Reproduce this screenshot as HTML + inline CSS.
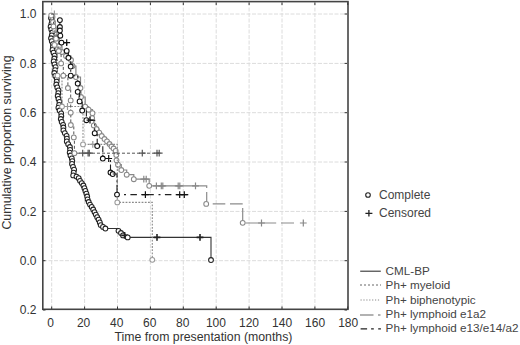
<!DOCTYPE html>
<html><head><meta charset="utf-8"><style>
html,body{margin:0;padding:0;background:#fff;}
svg{display:block;}
</style></head><body>
<svg width="520" height="345" viewBox="0 0 520 345">
<rect width="520" height="345" fill="#fff"/>
<g stroke="#dcdcdc" stroke-width="1" stroke-dasharray="4,1.5"><line x1="84.6" y1="2" x2="84.6" y2="309" />
<line x1="117.5" y1="2" x2="117.5" y2="309" />
<line x1="150.4" y1="2" x2="150.4" y2="309" />
<line x1="183.3" y1="2" x2="183.3" y2="309" />
<line x1="216.2" y1="2" x2="216.2" y2="309" />
<line x1="249.1" y1="2" x2="249.1" y2="309" />
<line x1="282.0" y1="2" x2="282.0" y2="309" />
<line x1="314.9" y1="2" x2="314.9" y2="309" />
<line x1="51.7" y1="2" x2="51.7" y2="309" />
<line x1="43" y1="14.0" x2="347" y2="14.0" />
<line x1="43" y1="63.4" x2="347" y2="63.4" />
<line x1="43" y1="112.7" x2="347" y2="112.7" />
<line x1="43" y1="162.0" x2="347" y2="162.0" />
<line x1="43" y1="211.4" x2="347" y2="211.4" />
<line x1="43" y1="260.7" x2="347" y2="260.7" /></g>
<path d="M51.2,14.0H51.0V18.0H52.0V20.9H51.4V23.8H50.6V26.7H51.3V29.6H52.3V32.5H51.8V35.4H51.0V38.3H51.8V41.2H53.0V44.1H52.9V47.0H52.5V49.9H53.5V52.7H54.6V55.6H54.3V58.5H53.7V61.4H54.5V64.3H55.5V67.2H55.1V70.1H54.3V73.0H55.3V75.9H56.8V78.8H56.7V81.6H56.3V84.5H57.3V87.4H58.5V90.3H58.3V93.2H57.7V96.0H58.5V98.9H59.5V101.8H59.1V104.8H58.4V107.7H59.6V110.5H61.2V113.3H61.3V116.1H60.8V119.0H61.7V121.9H63.1V124.8H63.4V127.5H63.4V130.3H64.8V133.1H66.6V135.9H66.9V138.6H66.8V141.4H68.2V144.2H69.9V147.0H70.1V149.8H69.7V152.6H70.5V155.5H71.8V158.4H72.3V161.1H72.0V163.9H73.0V166.8H74.1V169.7H73.7V172.6H73.2V175.4H76.5V176.6H78.7V178.2H80.0V180.8H81.8V183.1H83.4V185.5H84.4V188.2H85.4V190.9H86.4V193.7H87.2V196.5H87.6V199.3H88.7V202.0H90.0V204.6H91.7V206.9H93.2V209.5H94.5V212.1H95.8V214.6H97.2V217.2H98.6V219.7H99.8V222.4H100.7V225.1H103.0V226.9H105.4V228.5H118.5V230.8H121.0V233.0H123.0V235.4H124.6H127.7V237.4H157.0H200.0H211.0V260.0" fill="none" stroke="#333" stroke-width="1.1"/>
<circle cx="51.0" cy="18.0" r="2.4" fill="#fff" stroke="#222" stroke-width="1.05"/>
<circle cx="52.0" cy="20.9" r="2.4" fill="#fff" stroke="#222" stroke-width="1.05"/>
<circle cx="51.4" cy="23.8" r="2.4" fill="#fff" stroke="#222" stroke-width="1.05"/>
<circle cx="50.6" cy="26.7" r="2.4" fill="#fff" stroke="#222" stroke-width="1.05"/>
<circle cx="51.3" cy="29.6" r="2.4" fill="#fff" stroke="#222" stroke-width="1.05"/>
<circle cx="52.3" cy="32.5" r="2.4" fill="#fff" stroke="#222" stroke-width="1.05"/>
<circle cx="51.8" cy="35.4" r="2.4" fill="#fff" stroke="#222" stroke-width="1.05"/>
<circle cx="51.0" cy="38.3" r="2.4" fill="#fff" stroke="#222" stroke-width="1.05"/>
<circle cx="51.8" cy="41.2" r="2.4" fill="#fff" stroke="#222" stroke-width="1.05"/>
<circle cx="53.0" cy="44.1" r="2.4" fill="#fff" stroke="#222" stroke-width="1.05"/>
<circle cx="52.9" cy="47.0" r="2.4" fill="#fff" stroke="#222" stroke-width="1.05"/>
<circle cx="52.5" cy="49.9" r="2.4" fill="#fff" stroke="#222" stroke-width="1.05"/>
<circle cx="53.5" cy="52.7" r="2.4" fill="#fff" stroke="#222" stroke-width="1.05"/>
<circle cx="54.6" cy="55.6" r="2.4" fill="#fff" stroke="#222" stroke-width="1.05"/>
<circle cx="54.3" cy="58.5" r="2.4" fill="#fff" stroke="#222" stroke-width="1.05"/>
<circle cx="53.7" cy="61.4" r="2.4" fill="#fff" stroke="#222" stroke-width="1.05"/>
<circle cx="54.5" cy="64.3" r="2.4" fill="#fff" stroke="#222" stroke-width="1.05"/>
<circle cx="55.5" cy="67.2" r="2.4" fill="#fff" stroke="#222" stroke-width="1.05"/>
<circle cx="55.1" cy="70.1" r="2.4" fill="#fff" stroke="#222" stroke-width="1.05"/>
<circle cx="54.3" cy="73.0" r="2.4" fill="#fff" stroke="#222" stroke-width="1.05"/>
<circle cx="55.3" cy="75.9" r="2.4" fill="#fff" stroke="#222" stroke-width="1.05"/>
<circle cx="56.8" cy="78.8" r="2.4" fill="#fff" stroke="#222" stroke-width="1.05"/>
<circle cx="56.7" cy="81.6" r="2.4" fill="#fff" stroke="#222" stroke-width="1.05"/>
<circle cx="56.3" cy="84.5" r="2.4" fill="#fff" stroke="#222" stroke-width="1.05"/>
<circle cx="57.3" cy="87.4" r="2.4" fill="#fff" stroke="#222" stroke-width="1.05"/>
<circle cx="58.5" cy="90.3" r="2.4" fill="#fff" stroke="#222" stroke-width="1.05"/>
<circle cx="58.3" cy="93.2" r="2.4" fill="#fff" stroke="#222" stroke-width="1.05"/>
<circle cx="57.7" cy="96.0" r="2.4" fill="#fff" stroke="#222" stroke-width="1.05"/>
<circle cx="58.5" cy="98.9" r="2.4" fill="#fff" stroke="#222" stroke-width="1.05"/>
<circle cx="59.5" cy="101.8" r="2.4" fill="#fff" stroke="#222" stroke-width="1.05"/>
<circle cx="59.1" cy="104.8" r="2.4" fill="#fff" stroke="#222" stroke-width="1.05"/>
<circle cx="58.4" cy="107.7" r="2.4" fill="#fff" stroke="#222" stroke-width="1.05"/>
<circle cx="59.6" cy="110.5" r="2.4" fill="#fff" stroke="#222" stroke-width="1.05"/>
<circle cx="61.2" cy="113.3" r="2.4" fill="#fff" stroke="#222" stroke-width="1.05"/>
<circle cx="61.3" cy="116.1" r="2.4" fill="#fff" stroke="#222" stroke-width="1.05"/>
<circle cx="60.8" cy="119.0" r="2.4" fill="#fff" stroke="#222" stroke-width="1.05"/>
<circle cx="61.7" cy="121.9" r="2.4" fill="#fff" stroke="#222" stroke-width="1.05"/>
<circle cx="63.1" cy="124.8" r="2.4" fill="#fff" stroke="#222" stroke-width="1.05"/>
<circle cx="63.4" cy="127.5" r="2.4" fill="#fff" stroke="#222" stroke-width="1.05"/>
<circle cx="63.4" cy="130.3" r="2.4" fill="#fff" stroke="#222" stroke-width="1.05"/>
<circle cx="64.8" cy="133.1" r="2.4" fill="#fff" stroke="#222" stroke-width="1.05"/>
<circle cx="66.6" cy="135.9" r="2.4" fill="#fff" stroke="#222" stroke-width="1.05"/>
<circle cx="66.9" cy="138.6" r="2.4" fill="#fff" stroke="#222" stroke-width="1.05"/>
<circle cx="66.8" cy="141.4" r="2.4" fill="#fff" stroke="#222" stroke-width="1.05"/>
<circle cx="68.2" cy="144.2" r="2.4" fill="#fff" stroke="#222" stroke-width="1.05"/>
<circle cx="69.9" cy="147.0" r="2.4" fill="#fff" stroke="#222" stroke-width="1.05"/>
<circle cx="70.1" cy="149.8" r="2.4" fill="#fff" stroke="#222" stroke-width="1.05"/>
<circle cx="69.7" cy="152.6" r="2.4" fill="#fff" stroke="#222" stroke-width="1.05"/>
<circle cx="70.5" cy="155.5" r="2.4" fill="#fff" stroke="#222" stroke-width="1.05"/>
<circle cx="71.8" cy="158.4" r="2.4" fill="#fff" stroke="#222" stroke-width="1.05"/>
<circle cx="72.3" cy="161.1" r="2.4" fill="#fff" stroke="#222" stroke-width="1.05"/>
<circle cx="72.0" cy="163.9" r="2.4" fill="#fff" stroke="#222" stroke-width="1.05"/>
<circle cx="73.0" cy="166.8" r="2.4" fill="#fff" stroke="#222" stroke-width="1.05"/>
<circle cx="74.1" cy="169.7" r="2.4" fill="#fff" stroke="#222" stroke-width="1.05"/>
<circle cx="73.7" cy="172.6" r="2.4" fill="#fff" stroke="#222" stroke-width="1.05"/>
<circle cx="73.2" cy="175.4" r="2.4" fill="#fff" stroke="#222" stroke-width="1.05"/>
<circle cx="76.5" cy="176.6" r="2.4" fill="#fff" stroke="#222" stroke-width="1.05"/>
<circle cx="78.7" cy="178.2" r="2.4" fill="#fff" stroke="#222" stroke-width="1.05"/>
<circle cx="80.0" cy="180.8" r="2.4" fill="#fff" stroke="#222" stroke-width="1.05"/>
<circle cx="81.8" cy="183.1" r="2.4" fill="#fff" stroke="#222" stroke-width="1.05"/>
<circle cx="83.4" cy="185.5" r="2.4" fill="#fff" stroke="#222" stroke-width="1.05"/>
<circle cx="84.4" cy="188.2" r="2.4" fill="#fff" stroke="#222" stroke-width="1.05"/>
<circle cx="85.4" cy="190.9" r="2.4" fill="#fff" stroke="#222" stroke-width="1.05"/>
<circle cx="86.4" cy="193.7" r="2.4" fill="#fff" stroke="#222" stroke-width="1.05"/>
<circle cx="87.2" cy="196.5" r="2.4" fill="#fff" stroke="#222" stroke-width="1.05"/>
<circle cx="87.6" cy="199.3" r="2.4" fill="#fff" stroke="#222" stroke-width="1.05"/>
<circle cx="88.7" cy="202.0" r="2.4" fill="#fff" stroke="#222" stroke-width="1.05"/>
<circle cx="90.0" cy="204.6" r="2.4" fill="#fff" stroke="#222" stroke-width="1.05"/>
<circle cx="91.7" cy="206.9" r="2.4" fill="#fff" stroke="#222" stroke-width="1.05"/>
<circle cx="93.2" cy="209.5" r="2.4" fill="#fff" stroke="#222" stroke-width="1.05"/>
<circle cx="94.5" cy="212.1" r="2.4" fill="#fff" stroke="#222" stroke-width="1.05"/>
<circle cx="95.8" cy="214.6" r="2.4" fill="#fff" stroke="#222" stroke-width="1.05"/>
<circle cx="97.2" cy="217.2" r="2.4" fill="#fff" stroke="#222" stroke-width="1.05"/>
<circle cx="98.6" cy="219.7" r="2.4" fill="#fff" stroke="#222" stroke-width="1.05"/>
<circle cx="99.8" cy="222.4" r="2.4" fill="#fff" stroke="#222" stroke-width="1.05"/>
<circle cx="100.7" cy="225.1" r="2.4" fill="#fff" stroke="#222" stroke-width="1.05"/>
<circle cx="103.0" cy="226.9" r="2.4" fill="#fff" stroke="#222" stroke-width="1.05"/>
<circle cx="105.4" cy="228.5" r="2.4" fill="#fff" stroke="#222" stroke-width="1.05"/>
<circle cx="118.5" cy="230.8" r="2.4" fill="#fff" stroke="#222" stroke-width="1.05"/>
<circle cx="121.0" cy="233.0" r="2.4" fill="#fff" stroke="#222" stroke-width="1.05"/>
<circle cx="123.0" cy="235.4" r="2.4" fill="#fff" stroke="#222" stroke-width="1.05"/>
<path d="M121.2,235.4H128.0M124.6,232.0V238.8" stroke="#222" stroke-width="1.6" fill="none"/>
<circle cx="127.7" cy="237.4" r="2.4" fill="#fff" stroke="#222" stroke-width="1.05"/>
<path d="M153.6,237.4H160.4M157.0,234.0V240.8" stroke="#222" stroke-width="1.6" fill="none"/>
<path d="M196.6,237.4H203.4M200.0,234.0V240.8" stroke="#222" stroke-width="1.6" fill="none"/>
<circle cx="211.0" cy="260.0" r="2.4" fill="#fff" stroke="#222" stroke-width="1.05"/>
<path d="M51.2,14.0H52.5V17.0H53.0V22.0H55.0V30.0H57.0V38.0H59.0V46.0H62.0V52.0H66.0V56.0H71.0V60.0H72.5V66.0H75.9V77.0H80.5V88.0H81.0V97.0H85.2V106.6H88.6V109.7H92.5V113.2H92.1V118.0H93.8V125.4H96.5V129.0H99.2V132.6H101.7V136.0H104.5V139.0H107.0V141.3H109.5V144.0H111.5V146.5H113.6V148.5H115.7V150.9H116.3V155.0H116.5V160.3H118.0V164.7H121.3V170.0H126.7V174.7H133.8V179.2H143.8H146.2H149.2V185.8H156.4H161.3H162.8H178.2H179.8H195.5" fill="none" stroke="#888" stroke-width="1.2"/>
<circle cx="52.5" cy="17.0" r="2.4" fill="#fff" stroke="#888" stroke-width="1.05"/>
<circle cx="53.0" cy="22.0" r="2.4" fill="#fff" stroke="#888" stroke-width="1.05"/>
<circle cx="55.0" cy="30.0" r="2.4" fill="#fff" stroke="#888" stroke-width="1.05"/>
<circle cx="57.0" cy="38.0" r="2.4" fill="#fff" stroke="#888" stroke-width="1.05"/>
<circle cx="59.0" cy="46.0" r="2.4" fill="#fff" stroke="#888" stroke-width="1.05"/>
<circle cx="62.0" cy="52.0" r="2.4" fill="#fff" stroke="#888" stroke-width="1.05"/>
<circle cx="66.0" cy="56.0" r="2.4" fill="#fff" stroke="#888" stroke-width="1.05"/>
<circle cx="71.0" cy="60.0" r="2.4" fill="#fff" stroke="#888" stroke-width="1.05"/>
<circle cx="72.5" cy="66.0" r="2.4" fill="#fff" stroke="#888" stroke-width="1.05"/>
<circle cx="75.9" cy="77.0" r="2.4" fill="#fff" stroke="#888" stroke-width="1.05"/>
<circle cx="80.5" cy="88.0" r="2.4" fill="#fff" stroke="#888" stroke-width="1.05"/>
<circle cx="81.0" cy="97.0" r="2.4" fill="#fff" stroke="#888" stroke-width="1.05"/>
<circle cx="85.2" cy="106.6" r="2.4" fill="#fff" stroke="#888" stroke-width="1.05"/>
<circle cx="88.6" cy="109.7" r="2.4" fill="#fff" stroke="#888" stroke-width="1.05"/>
<circle cx="92.5" cy="113.2" r="2.4" fill="#fff" stroke="#888" stroke-width="1.05"/>
<circle cx="92.1" cy="118.0" r="2.4" fill="#fff" stroke="#888" stroke-width="1.05"/>
<circle cx="93.8" cy="125.4" r="2.4" fill="#fff" stroke="#888" stroke-width="1.05"/>
<circle cx="96.5" cy="129.0" r="2.4" fill="#fff" stroke="#888" stroke-width="1.05"/>
<circle cx="99.2" cy="132.6" r="2.4" fill="#fff" stroke="#888" stroke-width="1.05"/>
<circle cx="101.7" cy="136.0" r="2.4" fill="#fff" stroke="#888" stroke-width="1.05"/>
<circle cx="104.5" cy="139.0" r="2.4" fill="#fff" stroke="#888" stroke-width="1.05"/>
<circle cx="107.0" cy="141.3" r="2.4" fill="#fff" stroke="#888" stroke-width="1.05"/>
<circle cx="109.5" cy="144.0" r="2.4" fill="#fff" stroke="#888" stroke-width="1.05"/>
<circle cx="111.5" cy="146.5" r="2.4" fill="#fff" stroke="#888" stroke-width="1.05"/>
<circle cx="113.6" cy="148.5" r="2.4" fill="#fff" stroke="#888" stroke-width="1.05"/>
<circle cx="115.7" cy="150.9" r="2.4" fill="#fff" stroke="#888" stroke-width="1.05"/>
<circle cx="116.3" cy="155.0" r="2.4" fill="#fff" stroke="#888" stroke-width="1.05"/>
<circle cx="116.5" cy="160.3" r="2.4" fill="#fff" stroke="#888" stroke-width="1.05"/>
<circle cx="118.0" cy="164.7" r="2.4" fill="#fff" stroke="#888" stroke-width="1.05"/>
<circle cx="121.3" cy="170.0" r="2.4" fill="#fff" stroke="#888" stroke-width="1.05"/>
<circle cx="126.7" cy="174.7" r="2.4" fill="#fff" stroke="#888" stroke-width="1.05"/>
<circle cx="133.8" cy="179.2" r="2.4" fill="#fff" stroke="#888" stroke-width="1.05"/>
<path d="M140.4,179.2H147.2M143.8,175.8V182.6" stroke="#888" stroke-width="1.2" fill="none"/>
<path d="M142.8,179.2H149.6M146.2,175.8V182.6" stroke="#888" stroke-width="1.2" fill="none"/>
<circle cx="149.2" cy="185.8" r="2.4" fill="#fff" stroke="#888" stroke-width="1.05"/>
<path d="M153.0,185.8H159.8M156.4,182.4V189.2" stroke="#888" stroke-width="1.2" fill="none"/>
<path d="M157.9,185.8H164.7M161.3,182.4V189.2" stroke="#888" stroke-width="1.2" fill="none"/>
<path d="M159.4,185.8H166.2M162.8,182.4V189.2" stroke="#888" stroke-width="1.2" fill="none"/>
<path d="M174.8,185.8H181.6M178.2,182.4V189.2" stroke="#888" stroke-width="1.2" fill="none"/>
<path d="M176.4,185.8H183.2M179.8,182.4V189.2" stroke="#888" stroke-width="1.2" fill="none"/>
<path d="M192.1,185.8H198.9M195.5,182.4V189.2" stroke="#888" stroke-width="1.2" fill="none"/>
<path d="M51.2,14.0V15.4H54.4V14.0H54.5V44.9H57.5V75.7H62.0V106.5H67.5H83.0V144.4H92.8H117.3V202.4H152.3V259.8" fill="none" stroke="#8a8a8a" stroke-width="1.1" stroke-dasharray="1.8,1.4"/>
<circle cx="51.2" cy="15.4" r="2.4" fill="#fff" stroke="#999" stroke-width="1.05"/>
<path d="M51.0,14.0H57.8M54.4,10.6V17.4" stroke="#999" stroke-width="1.2" fill="none"/>
<circle cx="54.5" cy="44.9" r="2.4" fill="#fff" stroke="#999" stroke-width="1.05"/>
<circle cx="57.5" cy="75.7" r="2.4" fill="#fff" stroke="#999" stroke-width="1.05"/>
<circle cx="62.0" cy="106.5" r="2.4" fill="#fff" stroke="#999" stroke-width="1.05"/>
<path d="M64.1,106.5H70.9M67.5,103.1V109.9" stroke="#999" stroke-width="1.2" fill="none"/>
<circle cx="83.0" cy="144.4" r="2.4" fill="#fff" stroke="#999" stroke-width="1.05"/>
<path d="M89.4,144.4H96.2M92.8,141.0V147.8" stroke="#999" stroke-width="1.2" fill="none"/>
<circle cx="117.3" cy="202.4" r="2.4" fill="#fff" stroke="#999" stroke-width="1.05"/>
<circle cx="152.3" cy="259.8" r="2.4" fill="#fff" stroke="#999" stroke-width="1.05"/>
<path d="M51.2,14.0H53.5V26.4H56.0V38.7H58.8V51.0H61.1V63.4H63.3V75.7H67.9V88.0H70.7V100.4V112.7H70.8V125.0H73.8V137.4H74.4V153.2H82.7H88.1H89.3H142.3H157.0H159.2" fill="none" stroke="#555" stroke-width="1.0" stroke-dasharray="3,2"/>
<circle cx="53.5" cy="26.4" r="2.4" fill="#fff" stroke="#888" stroke-width="1.05"/>
<circle cx="56.0" cy="38.7" r="2.4" fill="#fff" stroke="#888" stroke-width="1.05"/>
<circle cx="58.8" cy="51.0" r="2.4" fill="#fff" stroke="#888" stroke-width="1.05"/>
<circle cx="61.1" cy="63.4" r="2.4" fill="#fff" stroke="#888" stroke-width="1.05"/>
<circle cx="63.3" cy="75.7" r="2.4" fill="#fff" stroke="#888" stroke-width="1.05"/>
<circle cx="67.9" cy="88.0" r="2.4" fill="#fff" stroke="#888" stroke-width="1.05"/>
<circle cx="70.7" cy="100.4" r="2.4" fill="#fff" stroke="#888" stroke-width="1.05"/>
<circle cx="70.7" cy="112.7" r="2.4" fill="#fff" stroke="#888" stroke-width="1.05"/>
<circle cx="70.8" cy="125.0" r="2.4" fill="#fff" stroke="#888" stroke-width="1.05"/>
<circle cx="73.8" cy="137.4" r="2.4" fill="#fff" stroke="#888" stroke-width="1.05"/>
<circle cx="74.4" cy="153.2" r="2.4" fill="#fff" stroke="#888" stroke-width="1.05"/>
<path d="M79.3,153.2H86.1M82.7,149.8V156.6" stroke="#555" stroke-width="1.2" fill="none"/>
<path d="M84.7,153.2H91.5M88.1,149.8V156.6" stroke="#555" stroke-width="1.2" fill="none"/>
<path d="M85.9,153.2H92.7M89.3,149.8V156.6" stroke="#555" stroke-width="1.2" fill="none"/>
<path d="M138.9,153.2H145.7M142.3,149.8V156.6" stroke="#555" stroke-width="1.2" fill="none"/>
<path d="M153.6,153.2H160.4M157.0,149.8V156.6" stroke="#555" stroke-width="1.2" fill="none"/>
<path d="M155.8,153.2H162.6M159.2,149.8V156.6" stroke="#555" stroke-width="1.2" fill="none"/>
<path d="M59.9,20.1V27.0V30.5H60.3V35.7H61.5V42.6H66.7V50.9H68.4V57.8H70.7V66.5V75.7H77.7V83.5V91.8H79.6V101.4H82.2V110.5H86.4V120.2H90.0H94.7V133.2H97.2V146.0H102.8V158.5H108.7H110.5V172.5H112.7V174.0" fill="none" stroke="#222" stroke-width="1.1" stroke-dasharray="6,2.5,2,2.5"/>
<circle cx="59.9" cy="20.1" r="2.4" fill="#fff" stroke="#111" stroke-width="1.05"/>
<circle cx="59.9" cy="27.0" r="2.4" fill="#fff" stroke="#111" stroke-width="1.05"/>
<circle cx="59.9" cy="30.5" r="2.4" fill="#fff" stroke="#111" stroke-width="1.05"/>
<circle cx="60.3" cy="35.7" r="2.4" fill="#fff" stroke="#111" stroke-width="1.05"/>
<circle cx="61.5" cy="42.6" r="2.4" fill="#fff" stroke="#111" stroke-width="1.05"/>
<path d="M63.3,42.6H70.1M66.7,39.2V46.0" stroke="#111" stroke-width="1.2" fill="none"/>
<circle cx="66.7" cy="50.9" r="2.4" fill="#fff" stroke="#111" stroke-width="1.05"/>
<circle cx="68.4" cy="57.8" r="2.4" fill="#fff" stroke="#111" stroke-width="1.05"/>
<circle cx="70.7" cy="66.5" r="2.4" fill="#fff" stroke="#111" stroke-width="1.05"/>
<circle cx="70.7" cy="75.7" r="2.4" fill="#fff" stroke="#111" stroke-width="1.05"/>
<circle cx="77.7" cy="83.5" r="2.4" fill="#fff" stroke="#111" stroke-width="1.05"/>
<circle cx="77.7" cy="91.8" r="2.4" fill="#fff" stroke="#111" stroke-width="1.05"/>
<circle cx="79.6" cy="101.4" r="2.4" fill="#fff" stroke="#111" stroke-width="1.05"/>
<circle cx="82.2" cy="110.5" r="2.4" fill="#fff" stroke="#111" stroke-width="1.05"/>
<circle cx="86.4" cy="120.2" r="2.4" fill="#fff" stroke="#111" stroke-width="1.05"/>
<path d="M86.6,120.2H93.4M90.0,116.8V123.6" stroke="#111" stroke-width="1.2" fill="none"/>
<circle cx="94.7" cy="133.2" r="2.4" fill="#fff" stroke="#111" stroke-width="1.05"/>
<circle cx="97.2" cy="146.0" r="2.4" fill="#fff" stroke="#111" stroke-width="1.05"/>
<circle cx="102.8" cy="158.5" r="2.4" fill="#fff" stroke="#111" stroke-width="1.05"/>
<path d="M105.3,158.5H112.1M108.7,155.1V161.9" stroke="#111" stroke-width="1.2" fill="none"/>
<circle cx="110.5" cy="172.5" r="2.4" fill="#fff" stroke="#111" stroke-width="1.05"/>
<circle cx="112.7" cy="174.0" r="2.4" fill="#fff" stroke="#111" stroke-width="1.05"/>
<path d="M195.5,185.8H206.7V188M206.7,192V201" fill="none" stroke="#8c8c8c" stroke-width="1.2"/>
<path d="M212.7,203.9H225.3M230,203.9H242.7M242.7,208V220.5M245.5,223H276.2M281,223H294" fill="none" stroke="#8c8c8c" stroke-width="1.2"/>
<circle cx="206.2" cy="203.9" r="2.4" fill="#fff" stroke="#888" stroke-width="1.05"/>
<circle cx="242.7" cy="222.8" r="2.4" fill="#fff" stroke="#888" stroke-width="1.05"/>
<path d="M258.1,223.0H264.9M261.5,219.6V226.4" stroke="#888" stroke-width="1.2" fill="none"/>
<path d="M299.9,223.0H306.7M303.3,219.6V226.4" stroke="#888" stroke-width="1.2" fill="none"/>
<path d="M112.7,174H117V192" fill="none" stroke="#222" stroke-width="1.1" stroke-dasharray="8,2.5,2,2.5"/>
<path d="M117,194.6H190" fill="none" stroke="#222" stroke-width="1.3" stroke-dasharray="2,4.4,6.5,4.3,12.6,4.7" stroke-dashoffset="27.5"/>
<circle cx="117.0" cy="194.6" r="2.4" fill="#fff" stroke="#111" stroke-width="1.05"/>
<path d="M142.0,194.6H148.8M145.4,191.2V198.0" stroke="#111" stroke-width="1.2" fill="none"/>
<path d="M176.3,194.6H183.1M179.7,191.2V198.0" stroke="#111" stroke-width="1.2" fill="none"/>
<path d="M180.9,194.6H187.7M184.3,191.2V198.0" stroke="#111" stroke-width="1.2" fill="none"/>
<rect x="42.8" y="1.6" width="305.2" height="307.7" fill="none" stroke="#444" stroke-width="1.6"/>
<path d="M51.7,2.5v2.5M51.7,309v-2.5M84.6,2.5v2.5M84.6,309v-2.5M117.5,2.5v2.5M117.5,309v-2.5M150.4,2.5v2.5M150.4,309v-2.5M183.3,2.5v2.5M183.3,309v-2.5M216.2,2.5v2.5M216.2,309v-2.5M249.1,2.5v2.5M249.1,309v-2.5M282.0,2.5v2.5M282.0,309v-2.5M314.9,2.5v2.5M314.9,309v-2.5M347.8,2.5v2.5M347.8,309v-2.5M43,14.0h2.5M347,14.0h-2.5M43,63.4h2.5M347,63.4h-2.5M43,112.7h2.5M347,112.7h-2.5M43,162.0h2.5M347,162.0h-2.5M43,211.4h2.5M347,211.4h-2.5M43,260.7h2.5M347,260.7h-2.5M43,310.0h2.5M347,310.0h-2.5" stroke="#333" stroke-width="1" fill="none"/>
<g font-family="Liberation Sans, sans-serif" font-size="12" fill="#333"><text x="36.5" y="18.3" text-anchor="end">1.0</text>
<text x="36.5" y="67.7" text-anchor="end">0.8</text>
<text x="36.5" y="117.0" text-anchor="end">0.6</text>
<text x="36.5" y="166.3" text-anchor="end">0.4</text>
<text x="36.5" y="215.7" text-anchor="end">0.2</text>
<text x="36.5" y="265.0" text-anchor="end">0.0</text>
<text x="36.5" y="314.3" text-anchor="end">0.2</text>
<text x="50.5" y="327" text-anchor="middle">0</text>
<text x="83.6" y="327" text-anchor="middle">20</text>
<text x="116.7" y="327" text-anchor="middle">40</text>
<text x="149.7" y="327" text-anchor="middle">60</text>
<text x="182.8" y="327" text-anchor="middle">80</text>
<text x="215.9" y="327" text-anchor="middle">100</text>
<text x="249.0" y="327" text-anchor="middle">120</text>
<text x="282.1" y="327" text-anchor="middle">140</text>
<text x="315.1" y="327" text-anchor="middle">160</text>
<text x="348.2" y="327" text-anchor="middle">180</text>
<text x="203.5" y="340.6" text-anchor="middle" font-size="12.3">Time from presentation (months)</text>
<text transform="translate(10.6,142.5) rotate(-90)" text-anchor="middle" font-size="12.45">Cumulative proportion surviving</text></g>
<g font-family="Liberation Sans, sans-serif" font-size="12" fill="#444"><circle cx="368" cy="195" r="2.3" fill="#fff" stroke="#222" stroke-width="1.1"/>
<text x="379" y="199.2">Complete</text>
<path d="M365.4,213.3h7M368.9,210.1v6.4" stroke="#222" stroke-width="1.3"/>
<text x="379" y="217.2">Censored</text>
<path d="M360.2,271.2H380.8" stroke="#333" stroke-width="1.1" fill="none"/>
<path d="M360,285H381" stroke="#666" stroke-width="1" stroke-dasharray="2,2" fill="none"/>
<path d="M360.5,300H379.5" stroke="#888" stroke-width="1" stroke-dasharray="1.2,1.7" fill="none"/>
<path d="M360,315H373.5M378,315H380.5" stroke="#999" stroke-width="1.4" fill="none"/>
<path d="M360.6,328.9H367.1M371.1,328.9H373.8M378.2,328.9H380.9" stroke="#222" stroke-width="1.2" fill="none"/>
<text x="385.6" y="275.0" font-size="11.7">CML-BP</text>
<text x="385.6" y="288.8" font-size="11.7">Ph+ myeloid</text>
<text x="385.6" y="303.6" font-size="11.7">Ph+ biphenotypic</text>
<text x="385.6" y="318.3" font-size="11.7">Ph+ lymphoid e1a2</text>
<text x="385.6" y="332.3" font-size="11.7">Ph+ lymphoid e13/e14/a2</text></g>
</svg>
</body></html>
